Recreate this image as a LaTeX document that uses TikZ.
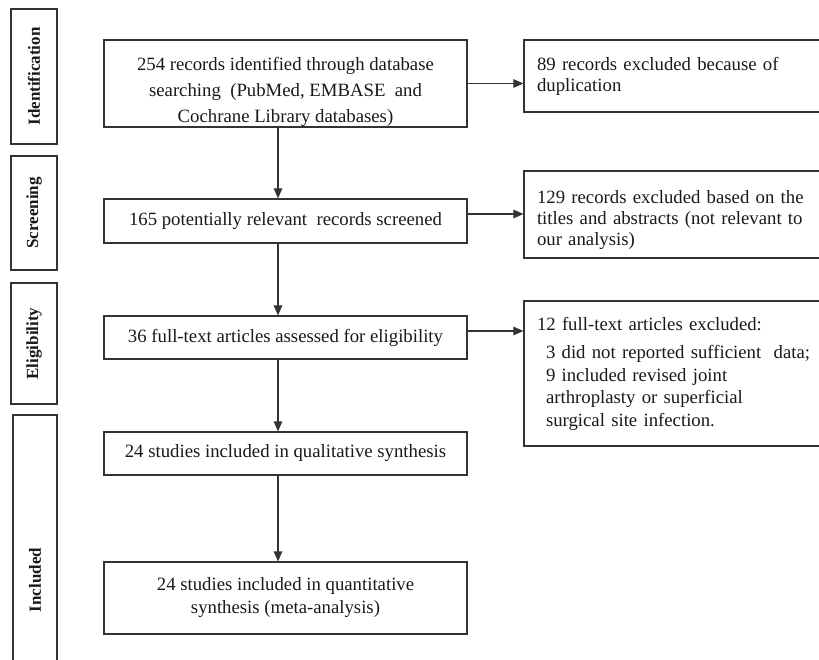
\documentclass[tikz,border=0pt]{standalone}
\usepackage{fontspec}
\setmainfont{Liberation Serif}
\usetikzlibrary{arrows.meta}
\definecolor{linegray}{gray}{0.2}

\begin{document}
\begin{tikzpicture}[x=1pt,y=-1pt,
  >={Triangle[length=10pt,width=8.5pt]},
  panel/.style={draw=linegray,line width=1.15pt,inner sep=0pt,text=black!90},
  stage/.style={panel,rotate=90,font=\bfseries\fontsize{17}{19}\selectfont},
  mainbox/.style={panel,minimum width=363pt,align=center,font=\fontsize{18.75}{26}\selectfont},
  exbox/.style={panel,text width=280pt,inner xsep=13pt,align=left,font=\fontsize{18.75}{21}\selectfont},
  flow/.style={->,draw=linegray,line width=1.15pt}]
\useasboundingbox (0,0) rectangle (819,660);

\node[stage,minimum width=135pt,minimum height=46pt] (ident) at (34,76.5) {Identification};
\node[stage,minimum width=114pt,minimum height=46pt] (screen) at (34,213) {Screening};
\node[stage,minimum width=121pt,minimum height=46pt] (elig) at (34,343.5) {Eligibility};
\node[stage,minimum width=330pt,minimum height=44pt] (incl) at (35,580) {Included};

\node[mainbox,minimum height=87pt] (rec) at (285.5,83.5) {\rule{0pt}{30pt}254 records identified through database\\ searching~ (PubMed, EMBASE~ and\\ Cochrane Library databases)};
\node[mainbox,minimum height=44pt] (scr) at (285.5,221) {165 potentially relevant~ records screened};
\node[mainbox,minimum height=43pt] (full) at (285.5,337.5) {36 full-text articles assessed for eligibility};
\node[mainbox,minimum height=43pt] (qual) at (285.5,453.5) {24 studies included in qualitative synthesis};
\node[mainbox,minimum height=72pt,font=\fontsize{18.75}{23}\selectfont] (quant) at (285.5,598) {24 studies included in quantitative\\ synthesis (meta-analysis)};

\node[exbox,minimum height=72pt] (dup) at (677,76) {89 records excluded because of\\ duplication};
\node[exbox,minimum height=87pt] (title) at (677,214.5) {\rule{0pt}{24pt}129 records excluded based on the\\ \makebox[268pt][s]{titles and abstracts (not relevant to}\\ our analysis)};
\node[exbox,minimum height=145pt,font=\fontsize{18.75}{22.5}\selectfont] (ex) at (677,373.5) {12 full-text articles excluded:\\[6pt] \hspace*{9pt}3 did not reported sufficient~ data;\\ \hspace*{9pt}9 included revised joint\\ \hspace*{9pt}arthroplasty or superficial\\ \hspace*{9pt}surgical site infection.};

\coordinate (ax) at (278,0);
\draw[flow] (rec.south -| ax) -- (scr.north -| ax);
\draw[flow] (scr.south -| ax) -- (full.north -| ax);
\draw[flow] (full.south -| ax) -- (qual.north -| ax);
\draw[flow] (qual.south -| ax) -- (quant.north -| ax);
\draw[flow] (rec.east) -- (rec.east -| dup.west);
\draw[flow] ([yshift=7pt]scr.east) -- ([yshift=7pt]scr.east -| title.west);
\draw[flow] ([yshift=6.5pt]full.east) -- ([yshift=6.5pt]full.east -| ex.west);
\end{tikzpicture}
\end{document}
